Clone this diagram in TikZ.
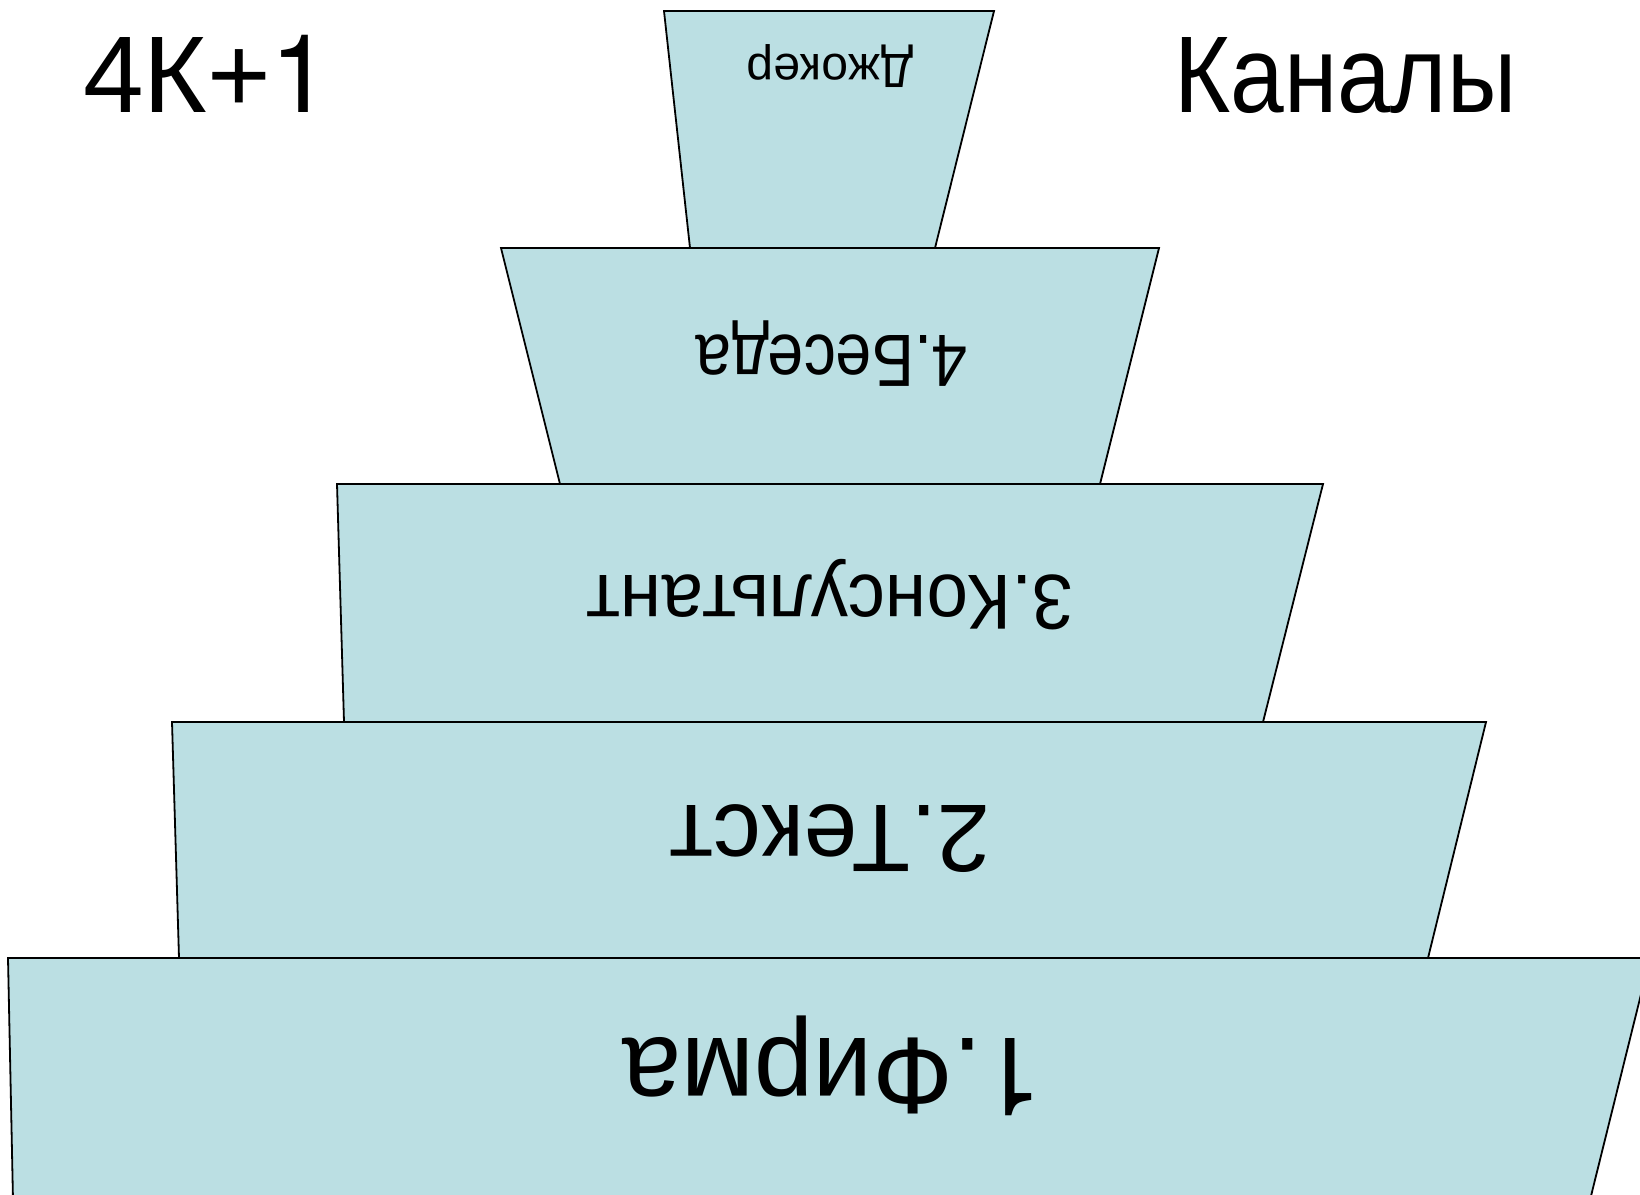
\documentclass[tikz,border=0pt]{standalone}
\usepackage{fontspec}
\setmainfont{Liberation Sans}
\newfontfamily\herosfont{TeX Gyre Heros}
\definecolor{layerfill}{RGB}{187,223,227}
\begin{document}
\begin{tikzpicture}[x=1pt,y=-1pt,
  layer/.style={fill=layerfill,draw=black,line width=1.8pt,line join=miter},
  flip/.style={rotate=180,anchor=base,inner sep=0pt,font=\fontsize{#1}{#1}\selectfont},
  titletext/.style={anchor=base west,inner sep=0pt,font=\fontsize{109}{109}\selectfont}]
\useasboundingbox (0,0) rectangle (1640,1194);
\clip (0,0) rectangle (1640,1194);
% layers (top to bottom)
\draw[layer] (664,11) -- (994,11) -- (935,248) -- (690,248) -- cycle;
\draw[layer] (501,248) -- (1159,248) -- (1100,484) -- (560,484) -- cycle;
\draw[layer] (337,484) -- (1323,484) -- (1263,722) -- (344,722) -- cycle;
\draw[layer] (172,722) -- (1486,722) -- (1428,958) -- (179,958) -- cycle;
\draw[layer] (8,958) -- (1650,958) -- (1590,1200) -- (13,1200) -- cycle;
% labels
\node[flip=48] (joker) at (830,54) {Джокер};
\node[flip=74,xscale=0.87] (talk) at (832,335) {4.Беседа};
\node[flip=78,xscale=0.955] (consult) at (830,575) {3.Консультант};
\node[flip=96] (text) at (830,805) {2.Текст};
\node[flip=109,xscale=0.975] (firm) at (832,1038) {{\herosfont 1}.Фирма};
\node[titletext] (formula) at (83,112) {4К+{\herosfont 1}};
\node[titletext,xscale=0.885] (channels) at (1174,112) {Каналы};
\end{tikzpicture}
\end{document}
